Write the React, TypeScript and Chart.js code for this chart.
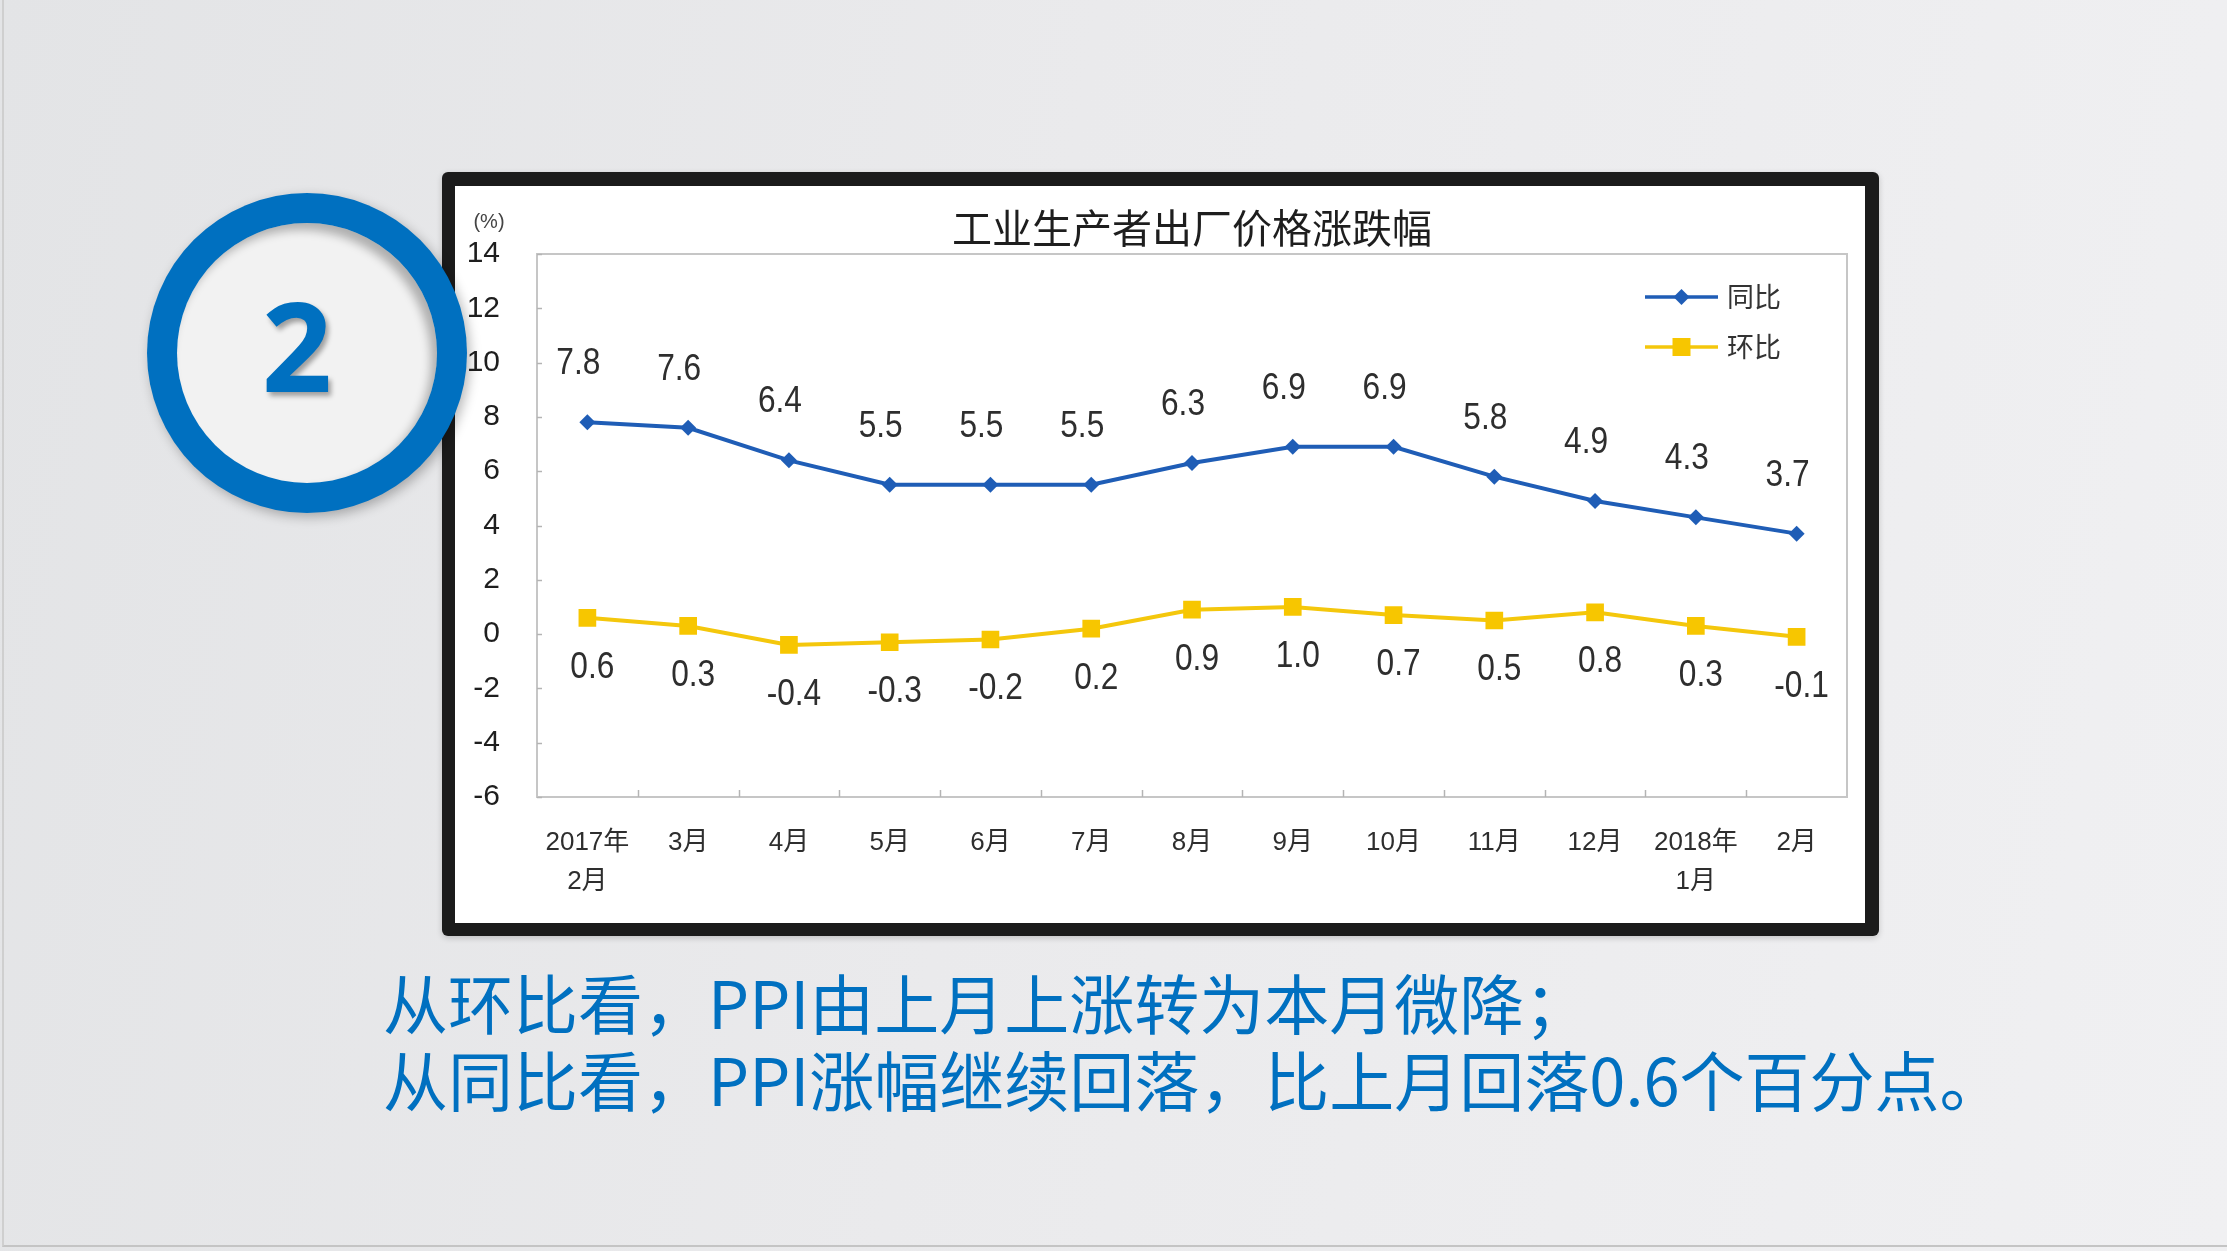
import React, { useEffect, useRef } from 'react';
import { Chart, registerables } from 'chart.js';

Chart.register(...registerables);

// ---- data ----
const categories: (string | string[])[] = [
  ['2017年', '2月'], '3月', '4月', '5月', '6月', '7月', '8月', '9月', '10月', '11月', '12月', ['2018年', '1月'], '2月',
];
const yoyValues = [7.8, 7.6, 6.4, 5.5, 5.5, 5.5, 6.3, 6.9, 6.9, 5.8, 4.9, 4.3, 3.7];
const momValues = [0.6, 0.3, -0.4, -0.3, -0.2, 0.2, 0.9, 1.0, 0.7, 0.5, 0.8, 0.3, -0.1];
const seriesNames = ['同比', '环比'];
const yMin = -6;
const yMax = 14;
const yStep = 2;
const chartTitle = '工业生产者出厂价格涨跌幅';
const unitLabel = '(%)';
const badgeNumber = '2';
const captionLines = ['从环比看，PPI由上月上涨转为本月微降；', '从同比看，PPI涨幅继续回落，比上月回落0.6个百分点。'];

const BLUE = '#1f5db6';
const YELLOW = '#f4c70c';
const NUM_FONT = '"Liberation Sans", Arial, "Noto Sans CJK SC", sans-serif';
const CJK_FONT = '"Noto Sans CJK SC", "Liberation Sans", sans-serif';

const framePlugin = {
  id: 'frameTicks',
  beforeDatasetsDraw(chart: any) {
    const { ctx, chartArea: a, scales } = chart;
    ctx.save();
    ctx.strokeStyle = '#c6c6c6';
    ctx.lineWidth = 2;
    ctx.strokeRect(a.left, a.top, a.right - a.left, a.bottom - a.top);
    ctx.strokeStyle = '#b4b4b4';
    ctx.lineWidth = 1.5;
    const xs = scales.x;
    for (let i = 1; i < categories.length; i++) {
      const px = Math.round((xs.getPixelForValue(i - 1) + xs.getPixelForValue(i)) / 2) + 0.5;
      ctx.beginPath();
      ctx.moveTo(px, a.bottom);
      ctx.lineTo(px, a.bottom - 7);
      ctx.stroke();
    }
    const ys = scales.y;
    ys.ticks.forEach((t: any) => {
      const py = Math.round(ys.getPixelForValue(t.value)) + 0.5;
      ctx.beginPath();
      ctx.moveTo(a.left, py);
      ctx.lineTo(a.left + 5, py);
      ctx.stroke();
    });
    ctx.restore();
  },
};

const labelsPlugin = {
  id: 'valueLabels',
  afterDatasetsDraw(chart: any) {
    const { ctx } = chart;
    ctx.save();
    ctx.font = `36px ${NUM_FONT}`;
    ctx.fillStyle = '#2e2e2e';
    ctx.textAlign = 'center';
    ctx.textBaseline = 'middle';
    chart.data.datasets.forEach((ds: any, di: number) => {
      const meta = chart.getDatasetMeta(di);
      const dx = di === 0 ? -9 : 5;
      const dy = di === 0 ? -58 : 50;
      meta.data.forEach((pt: any, i: number) => {
        const v = ds.data[i] as number;
        ctx.save();
        ctx.translate(pt.x + dx, pt.y + dy);
        ctx.scale(0.88, 1);
        ctx.fillText(v.toFixed(1), 0, 0);
        ctx.restore();
      });
    });
    ctx.restore();
  },
};

const legendPlugin = {
  id: 'insideLegend',
  afterDraw(chart: any) {
    const { ctx, chartArea: a } = chart;
    ctx.save();
    chart.data.datasets.forEach((ds: any, i: number) => {
      const y = a.top + 43 + i * 50;
      const x0 = a.right - 202;
      const x1 = a.right - 129;
      const cx = (x0 + x1) / 2;
      ctx.strokeStyle = ds.borderColor;
      ctx.lineWidth = 3.5;
      ctx.beginPath();
      ctx.moveTo(x0, y);
      ctx.lineTo(x1, y);
      ctx.stroke();
      ctx.fillStyle = ds.backgroundColor;
      ctx.beginPath();
      if (ds.pointStyle === 'rectRot') {
        const r = 8;
        ctx.moveTo(cx - r, y);
        ctx.lineTo(cx, y - r);
        ctx.lineTo(cx + r, y);
        ctx.lineTo(cx, y + r);
        ctx.closePath();
      } else {
        ctx.rect(cx - 9, y - 9, 18, 18);
      }
      ctx.fill();
      ctx.fillStyle = '#333';
      ctx.font = `27px ${CJK_FONT}`;
      ctx.textAlign = 'left';
      ctx.textBaseline = 'middle';
      ctx.fillText(ds.label, a.right - 120, y);
    });
    ctx.font = `20px ${NUM_FONT}`;
    ctx.fillStyle = '#444';
    ctx.textAlign = 'center';
    ctx.textBaseline = 'middle';
    ctx.fillText(unitLabel, a.left - 48, a.top - 32);
    ctx.restore();
  },
};

function PpiChart() {
  const ref = useRef<HTMLCanvasElement | null>(null);
  useEffect(() => {
    if (!ref.current) return;
    const chart = new Chart(ref.current, {
      type: 'line',
      data: {
        labels: categories as any,
        datasets: [
          {
            label: seriesNames[0],
            data: yoyValues,
            borderColor: BLUE,
            backgroundColor: BLUE,
            borderWidth: 4,
            pointStyle: 'rectRot',
            pointRadius: 8,
            pointBorderWidth: 0,
            tension: 0,
          },
          {
            label: seriesNames[1],
            data: momValues,
            borderColor: YELLOW,
            backgroundColor: '#f7c600',
            borderWidth: 4,
            pointStyle: 'rect',
            pointRadius: 12.5,
            pointBorderWidth: 0,
            tension: 0,
          },
        ],
      },
      options: {
        responsive: false,
        animation: false,
        devicePixelRatio: 1,
        layout: { padding: { top: 0, right: 18, bottom: 0, left: 0 } },
        plugins: {
          legend: { display: false },
          tooltip: { enabled: false },
          title: {
            display: true,
            text: chartTitle,
            fullSize: false,
            color: '#1e1e1e',
            font: { family: CJK_FONT, size: 40, weight: 'normal', lineHeight: 1.2 },
            padding: { top: 18, bottom: 2 },
          },
        },
        scales: {
          x: {
            type: 'category',
            offset: true,
            grid: { display: false, drawTicks: false, offset: true },
            border: { display: false },
            ticks: {
              padding: 26,
              color: '#2e2e2e',
              maxRotation: 0,
              autoSkip: false,
              font: { family: NUM_FONT, size: 26, lineHeight: 1.5 },
            },
            afterFit: (s: any) => {
              s.height = 126;
            },
          },
          y: {
            min: yMin,
            max: yMax,
            grid: { display: false, drawTicks: false },
            border: { display: false },
            ticks: {
              stepSize: yStep,
              padding: 37,
              color: '#1e1e1e',
              font: { family: NUM_FONT, size: 30 },
            },
            afterFit: (s: any) => {
              s.width = 82;
            },
          },
        },
      },
      plugins: [framePlugin, labelsPlugin, legendPlugin],
    });
    return () => chart.destroy();
  }, []);
  return <canvas ref={ref} width={1410} height={737} style={{ display: 'block' }} />;
}

export default function App() {
  return (
    <div
      style={{
        position: 'absolute',
        left: 0,
        top: 0,
        width: 2227,
        height: 1251,
        overflow: 'hidden',
        background: 'linear-gradient(100deg, #e3e4e6 0%, #eaeaec 45%, #f0f0f2 100%)',
      }}
    >
      <div
        style={{
          position: 'absolute',
          left: 2,
          top: 0,
          width: 2225,
          height: 1247,
          borderLeft: '2px solid #cfcfcf',
          borderBottom: '2px solid #c4c4c4',
          boxSizing: 'border-box',
        }}
      />
      {/* black frame */}
      <div
        style={{
          position: 'absolute',
          left: 442,
          top: 172,
          width: 1437,
          height: 764,
          background: '#1b1b1b',
          borderRadius: 6,
          boxShadow: '0 2px 6px rgba(0,0,0,0.18)',
        }}
      >
        <div style={{ position: 'absolute', left: 13, top: 14, width: 1410, height: 737, background: '#fff' }}>
          <PpiChart />
        </div>
      </div>
      {/* badge */}
      <div
        style={{
          position: 'absolute',
          left: 147,
          top: 193,
          width: 320,
          height: 320,
          borderRadius: '50%',
          background: '#0070c0',
          boxShadow: '3px 4px 12px rgba(0,0,0,0.28)',
        }}
      >
        <div
          style={{
            position: 'absolute',
            left: 30,
            top: 30,
            width: 260,
            height: 260,
            borderRadius: '50%',
            background: '#f2f2f2',
            boxShadow: 'inset -6px 7px 10px rgba(0,0,0,0.28)',
          }}
        />
        <div
          style={{
            position: 'absolute',
            left: 50,
            top: 90,
            width: 200,
            height: 123,
            lineHeight: '123px',
            textAlign: 'center',
            fontFamily: '"Open Sans", sans-serif',
            fontWeight: 700,
            fontSize: 123,
            color: '#0070c0',
            textShadow: '3px 4px 5px rgba(0,0,0,0.35)',
          }}
        >
          {badgeNumber}
        </div>
      </div>
      {/* caption */}
      <div
        style={{
          position: 'absolute',
          left: 383,
          top: 963,
          fontFamily: CJK_FONT,
          fontSize: 65,
          lineHeight: '77px',
          color: '#0070c0',
          whiteSpace: 'nowrap',
        }}
      >
        {captionLines.map((l, i) => (
          <div key={i}>{l}</div>
        ))}
      </div>
    </div>
  );
}
